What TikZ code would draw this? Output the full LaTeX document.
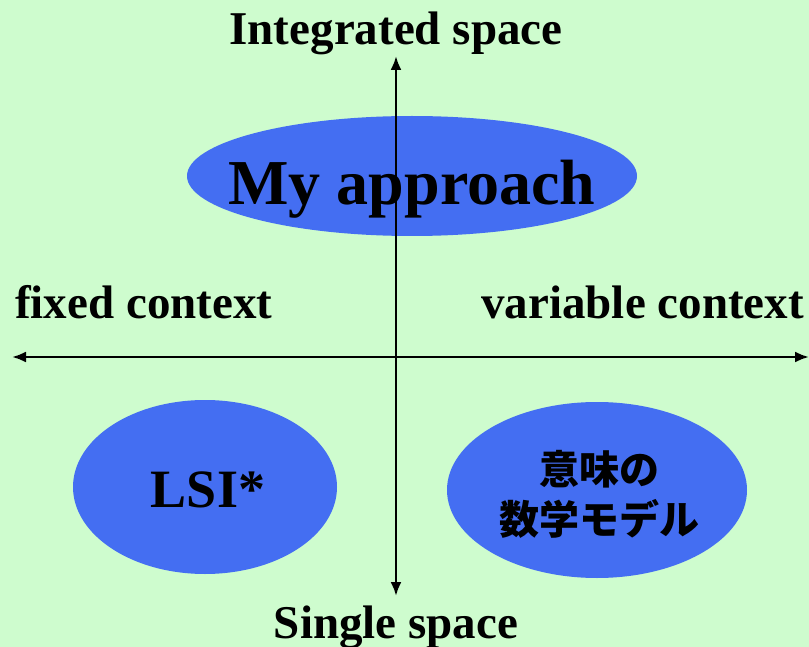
\documentclass[tikz,border=0pt]{standalone}
\usepackage{fontspec}
\setmainfont{Liberation Serif}
\newfontfamily\cjk{Noto Sans CJK JP}
\usetikzlibrary{arrows.meta,shapes.geometric}
\definecolor{bgcol}{RGB}{206,252,206}
\definecolor{blobcol}{RGB}{68,110,242}
\begin{document}
\begin{tikzpicture}[x=1pt,y=-1pt,
  axisline/.style={line width=2.5pt,{Latex[length=14pt,width=11pt]}-{Latex[length=14pt,width=11pt]}},
  blob/.style={ellipse,fill=blobcol,inner sep=0pt},
  lbl/.style={font=\bfseries\fontsize{47}{50}\selectfont,inner sep=0pt,text=black}]
\fill[bgcol] (0,0) rectangle (809,647);
\useasboundingbox (0,0) rectangle (809,647);
% ellipses
\node[blob,minimum width=450pt,minimum height=120pt] (mine) at (412,176) {};
\node[blob,minimum width=264pt,minimum height=174pt] (lsi) at (205,487) {};
\node[blob,minimum width=300pt,minimum height=176pt] (model) at (597,490) {};
% texts
\node[lbl,anchor=base] (integ) at (396,45) {Integrated space};
\node[lbl,anchor=base] (single) at (396,638) {Single space};
\node[lbl,anchor=base west] (fixed) at (15,319) {fixed context};
\node[lbl,anchor=base east] (var) at (804,319) {variable context};
\node[lbl,anchor=base,font=\bfseries\fontsize{64}{70}\selectfont] (mytxt) at (412,205) {My approach};
\node[lbl,anchor=base,font=\bfseries\fontsize{54}{60}\selectfont] (lsitxt) at (208,507) {LSI*};
\node[lbl,align=center,font=\cjk\bfseries\fontsize{40}{50}\selectfont] (modeltxt) at (599,494) {意味の\\数学モデル};
% axes
\coordinate (ytop) at (396,56);
\coordinate (ybot) at (396,596);
\coordinate (xleft) at (12,357);
\coordinate (xright) at (809,357);
\draw[axisline] (ybot) -- (ytop);
\draw[axisline] (xleft) -- (xright);
\end{tikzpicture}
\end{document}
